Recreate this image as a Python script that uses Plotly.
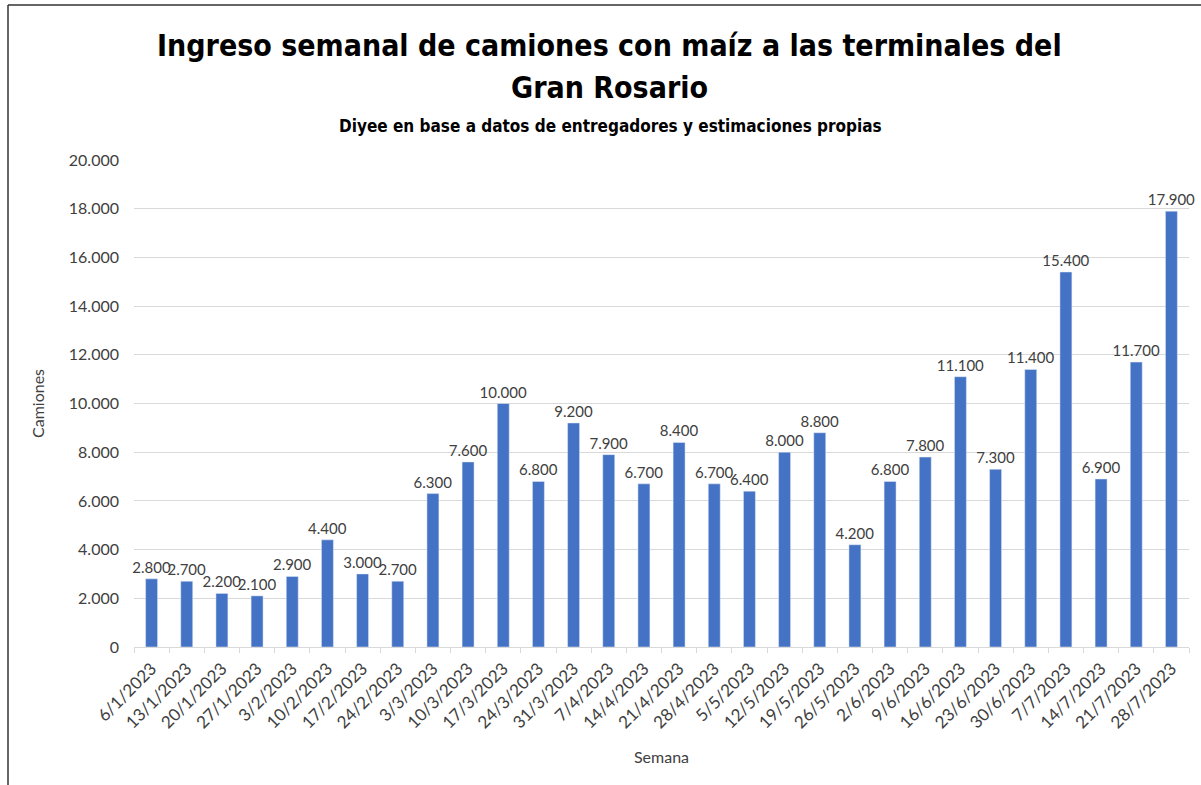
import plotly.graph_objects as go

# weekly truck arrivals (camiones) per week
semanas = ["6/1/2023", "13/1/2023", "20/1/2023", "27/1/2023", "3/2/2023", "10/2/2023",
           "17/2/2023", "24/2/2023", "3/3/2023", "10/3/2023", "17/3/2023", "24/3/2023",
           "31/3/2023", "7/4/2023", "14/4/2023", "21/4/2023", "28/4/2023", "5/5/2023",
           "12/5/2023", "19/5/2023", "26/5/2023", "2/6/2023", "9/6/2023", "16/6/2023",
           "23/6/2023", "30/6/2023", "7/7/2023", "14/7/2023", "21/7/2023", "28/7/2023"]
camiones = [2800, 2700, 2200, 2100, 2900, 4400, 3000, 2700, 6300, 7600, 10000, 6800,
            9200, 7900, 6700, 8400, 6700, 6400, 8000, 8800, 4200, 6800, 7800, 11100,
            7300, 11400, 15400, 6900, 11700, 17900]
etiquetas = [f"{v:,}".replace(",", ".") for v in camiones]

body_font = "Lato, Open Sans, sans-serif"
title_font = "DejaVu Sans Condensed, sans-serif"

# full-window figure; body margin is removed in post_script below
W, H = 1201, 785
L, R, T, B = 134, W - 1189, 160, H - 647
pw, ph = W - L - R, H - T - B

def px_x(p):
    return (p - L) / pw

def px_y(p):
    return (H - B - p) / ph

fig = go.Figure(go.Bar(
    x=semanas, y=camiones,
    marker=dict(color="#4472c4"),
    width=0.34,
    text=etiquetas, textposition="outside", constraintext="none",
    textfont=dict(family=body_font, size=15, color="#404040"),
    cliponaxis=False,
))

fig.update_layout(
    width=W, height=H,
    margin=dict(l=L, r=R, t=T, b=B),
    paper_bgcolor="white", plot_bgcolor="white",
    separators=",.",
    showlegend=False,
    font=dict(family=body_font, size=15, color="#404040"),
    xaxis=dict(
        type="category", tickangle=-45, tickson="boundaries",
        ticks="outside", ticklen=5, tickcolor="#d9d9d9",
        showline=True, linecolor="#d9d9d9", linewidth=1,
        tickfont=dict(size=17, color="#404040"),
        ticklabelstandoff=4,
        title=dict(text="Semana", font=dict(size=16, color="#404040"), standoff=20),
    ),
    yaxis=dict(
        range=[0, 20000], dtick=2000, tickformat=",d",
        showgrid=True, gridcolor="#d9d9d9", zeroline=False,
        tickfont=dict(size=16, color="#404040"),
        ticklabelstandoff=14,
        title=dict(text="Camiones", font=dict(size=16, color="#404040"), standoff=20),
    ),
    annotations=[
        dict(text="<b>Ingreso semanal de camiones con maíz a las terminales del</b>",
             xref="paper", yref="paper", x=px_x(609), y=px_y(45), showarrow=False,
             font=dict(family=title_font, size=30, color="black"), yanchor="middle"),
        dict(text="<b>Gran Rosario</b>",
             xref="paper", yref="paper", x=px_x(609), y=px_y(87), showarrow=False,
             font=dict(family=title_font, size=30, color="black"), yanchor="middle"),
        dict(text="<b>Diyee en base a datos de entregadores y estimaciones propias</b>",
             xref="paper", yref="paper", x=px_x(610), y=px_y(126), showarrow=False,
             font=dict(family=title_font, size=17, color="black"), yanchor="middle"),
    ],
    shapes=[
        dict(type="line", xref="paper", yref="paper",
             x0=px_x(8), x1=px_x(8), y0=px_y(5), y1=px_y(790),
             line=dict(color="#333333", width=1.5)),
        dict(type="line", xref="paper", yref="paper",
             x0=px_x(8), x1=px_x(1205), y0=px_y(5), y1=px_y(5),
             line=dict(color="#333333", width=1.5)),
    ],
)

fig.write_html("out.html", config={"displayModeBar": False},
               post_script="document.body.style.margin='0px'; document.body.style.overflow='hidden';")
